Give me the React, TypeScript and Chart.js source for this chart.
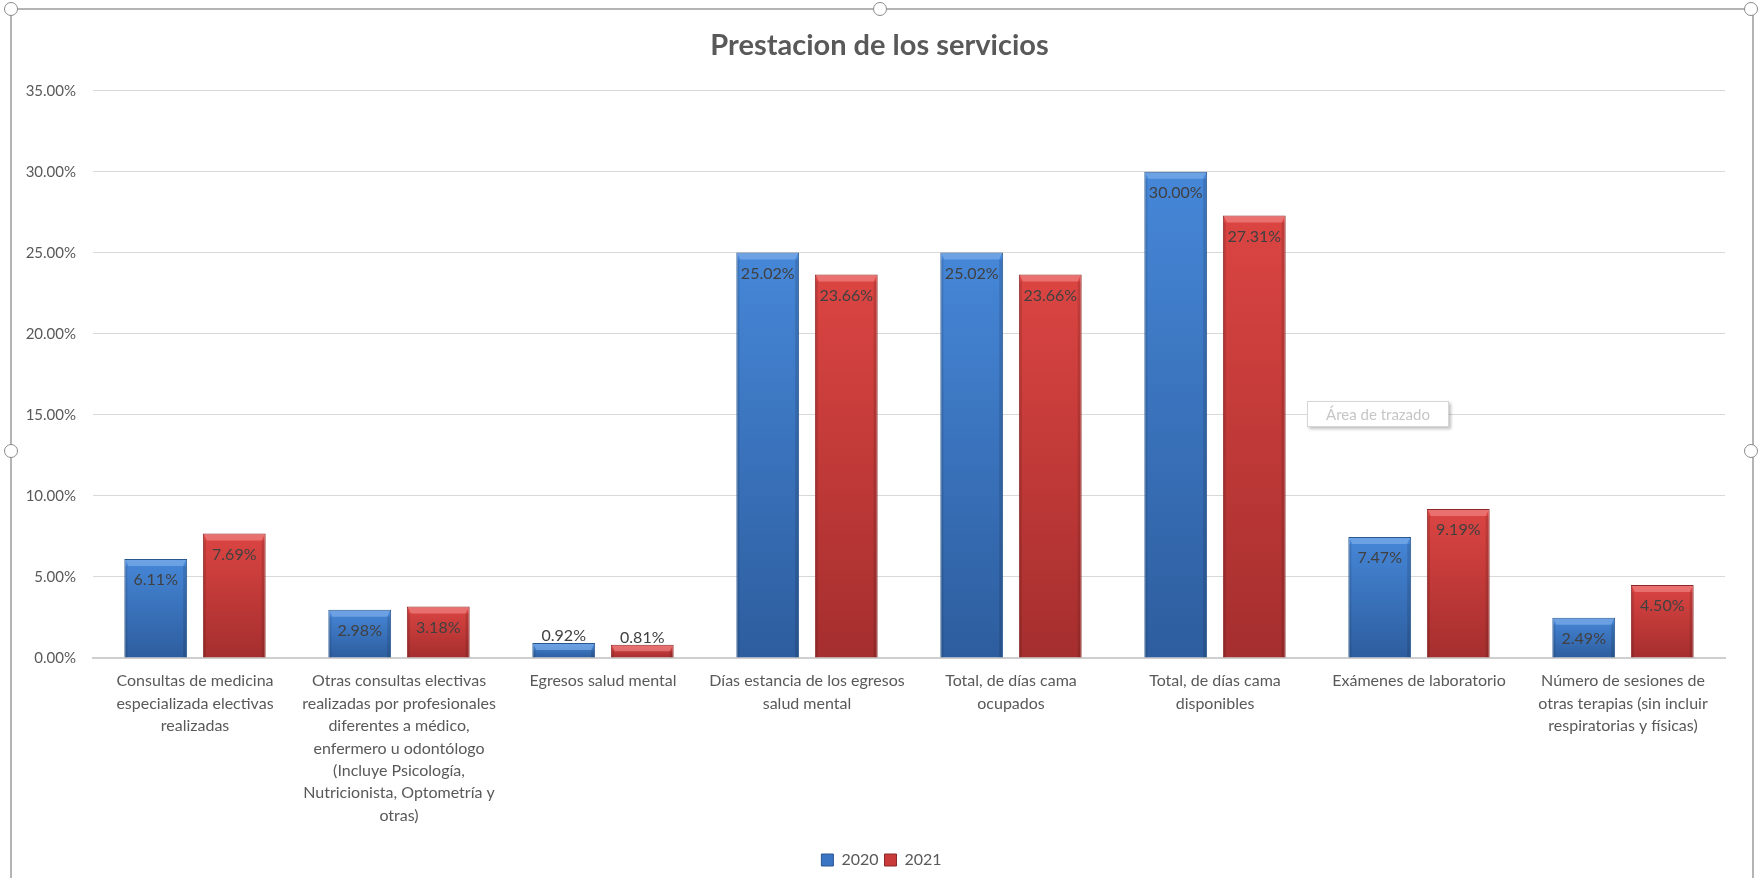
import React, { useEffect, useRef } from "react";
import { Chart, registerables } from "chart.js";

Chart.register(...registerables);

const categories: string[][] = [
  ["Consultas de medicina", "especializada electivas", "realizadas"],
  [
    "Otras consultas electivas",
    "realizadas por profesionales",
    "diferentes a médico,",
    "enfermero u odontólogo",
    "(Incluye Psicología,",
    "Nutricionista, Optometría y",
    "otras)",
  ],
  ["Egresos salud mental"],
  ["Días estancia de los egresos", "salud mental"],
  ["Total, de días cama", "ocupados"],
  ["Total, de días cama", "disponibles"],
  ["Exámenes de laboratorio"],
  ["Número de sesiones de", "otras terapias (sin incluir", "respiratorias y físicas)"],
];

const values2020: number[] = [6.11, 2.98, 0.92, 25.02, 25.02, 30.0, 7.47, 2.49];
const values2021: number[] = [7.69, 3.18, 0.81, 23.66, 23.66, 27.31, 9.19, 4.5];

const seriesNames: string[] = ["2020", "2021"];
const chartTitle = "Prestacion de los servicios";

const FONT = "Lato, 'Open Sans', sans-serif";

const palettes = [
  { top: "#4687D8", bottom: "#2D5D9E", border: "#2A568F", hi: "rgba(140,185,240,0.55)", solid: "#3A75C4" },
  { top: "#DB4542", bottom: "#A52E2E", border: "#8C2828", hi: "rgba(245,150,150,0.55)", solid: "#C93A3A" },
];

function barGradient(ctx: any, dsIndex: number) {
  const chart = ctx.chart;
  const p = palettes[dsIndex];
  const y = chart.scales && chart.scales.y;
  if (!y || ctx.parsed == null) return p.solid;
  const top = y.getPixelForValue(ctx.parsed.y);
  const bottom = y.getPixelForValue(0);
  if (!isFinite(top) || !isFinite(bottom) || bottom - top < 1) return p.solid;
  const g = chart.ctx.createLinearGradient(0, top, 0, bottom);
  g.addColorStop(0, p.top);
  g.addColorStop(1, p.bottom);
  return g;
}

const boxShiftPlugin = {
  id: "boxShift",
  afterLayout(chart: any) {
    if (chart.legend) {
      chart.legend.left += 19;
      chart.legend.right += 19;
    }
    if (chart.titleBlock) {
      chart.titleBlock.left += 17;
      chart.titleBlock.right += 17;
    }
  },
};

const barDecorPlugin = {
  id: "barDecor",
  afterDatasetsDraw(chart: any) {
    const ctx = chart.ctx;
    chart.data.datasets.forEach((ds: any, di: number) => {
      const meta = chart.getDatasetMeta(di);
      const p = palettes[di];
      meta.data.forEach((bar: any, i: number) => {
        const left = bar.x - bar.width / 2;
        const h = bar.base - bar.y;
        ctx.save();
        const bh = Math.min(7, h / 2);
        ctx.fillStyle = p.hi;
        ctx.beginPath();
        ctx.moveTo(left + 1, bar.y + 1);
        ctx.lineTo(left + bar.width - 1, bar.y + 1);
        ctx.lineTo(left + bar.width - 4, bar.y + bh);
        ctx.lineTo(left + 4, bar.y + bh);
        ctx.closePath();
        ctx.fill();
        ctx.fillStyle = "rgba(0,0,0,0.12)";
        ctx.fillRect(left + bar.width - 4, bar.y + bh, 3, h - bh);
        ctx.fillRect(left + 1, bar.y + bh, 2, h - bh);
        ctx.restore();
        const v = ds.data[i] as number;
        const txt = v.toFixed(2) + "%";
        ctx.save();
        ctx.font = "16px " + FONT;
        ctx.fillStyle = "#404040";
        ctx.textAlign = "center";
        if (h > 30) {
          ctx.textBaseline = "middle";
          ctx.fillText(txt, bar.x, bar.y + 21);
        } else {
          ctx.textBaseline = "bottom";
          ctx.fillText(txt, bar.x, bar.y + 1);
        }
        ctx.restore();
      });
    });
  },
};

export default function App() {
  const canvasRef = useRef<HTMLCanvasElement | null>(null);

  useEffect(() => {
    document.body.style.margin = "0";
    const canvas = canvasRef.current;
    if (!canvas) return;
    const chart = new Chart(canvas, {
      type: "bar",
      data: {
        labels: categories,
        datasets: [
          {
            label: seriesNames[0],
            data: values2020,
            backgroundColor: (c: any) => barGradient(c, 0),
            borderColor: palettes[0].border,
            borderWidth: 1,
            categoryPercentage: 0.77,
            barPercentage: 0.8,
          },
          {
            label: seriesNames[1],
            data: values2021,
            backgroundColor: (c: any) => barGradient(c, 1),
            borderColor: palettes[1].border,
            borderWidth: 1,
            categoryPercentage: 0.77,
            barPercentage: 0.8,
          },
        ],
      },
      options: {
        animation: false,
        responsive: false,
        devicePixelRatio: 1,
        layout: { padding: { left: 0, right: 37, top: 0, bottom: 0 } },
        plugins: {
          title: {
            display: true,
            text: chartTitle,
            color: "#595959",
            font: { family: FONT, size: 29, weight: "bold" },
            padding: { top: 28, bottom: 28 },
          },
          legend: {
            position: "bottom",
            labels: {
              color: "#595959",
              font: { family: FONT, size: 16 },
              boxWidth: 12,
              boxHeight: 12,
              padding: 6,
              generateLabels: (ch: any) =>
                ch.data.datasets.map((d: any, i: number) => ({
                  text: d.label,
                  fillStyle: palettes[i].solid,
                  strokeStyle: palettes[i].border,
                  lineWidth: 1,
                  datasetIndex: i,
                  hidden: false,
                  fontColor: "#595959",
                })),
            },
          },
          tooltip: { enabled: false },
        },
        scales: {
          x: {
            grid: { display: false, drawTicks: false },
            border: { display: true, color: "#cfcfcf", width: 2 },
            ticks: {
              color: "#595959",
              font: { family: FONT, size: 16, lineHeight: 1.4 },
              padding: 12,
              maxRotation: 0,
              minRotation: 0,
              autoSkip: false,
            },
            afterFit: (s: any) => {
              s.height = 188;
            },
          },
          y: {
            min: 0,
            max: 35,
            grid: { color: "#d9d9d9", lineWidth: 1, drawTicks: false },
            border: { display: false },
            ticks: {
              stepSize: 5,
              color: "#595959",
              font: { family: FONT, size: 15 },
              padding: 17,
              callback: (v: any) => Number(v).toFixed(2) + "%",
            },
            afterFit: (s: any) => {
              s.width = 93;
            },
          },
        },
      },
      plugins: [boxShiftPlugin, barDecorPlugin],
    });
    return () => chart.destroy();
  }, []);

  const handle = (x: number, y: number): React.CSSProperties => ({
    position: "absolute",
    left: x - 7,
    top: y - 7,
    width: 12,
    height: 12,
    borderRadius: "50%",
    background: "#fff",
    border: "1.5px solid #8a8a8a",
  });

  return (
    <div style={{ position: "fixed", left: 0, top: 0, width: 1762, height: 878, background: "#fff", overflow: "hidden" }}>
      <canvas ref={canvasRef} width={1762} height={878} style={{ position: "absolute", left: 0, top: 0, width: 1762, height: 878 }} />
      <div
        style={{
          position: "absolute",
          left: 10,
          top: 8,
          width: 1740,
          height: 900,
          borderTop: "2px solid #b4b4b4",
          borderLeft: "2px solid #b4b4b4",
          borderRight: "2px solid #b4b4b4",
          pointerEvents: "none",
        }}
      />
      <div style={handle(880, 9)} />
      <div style={handle(11, 451)} />
      <div style={handle(1751, 451)} />
      <div style={handle(11, 9)} />
      <div style={handle(1751, 9)} />
      <div
        style={{
          position: "absolute",
          left: 1307,
          top: 401,
          width: 140,
          height: 24,
          border: "1px solid #d6d6d6",
          boxShadow: "2px 2px 3px rgba(0,0,0,0.25)",
          background: "#fff",
          color: "#c6c6c6",
          fontFamily: FONT,
          fontSize: 15,
          lineHeight: "24px",
          textAlign: "center",
        }}
      >
        Área de trazado
      </div>
    </div>
  );
}
